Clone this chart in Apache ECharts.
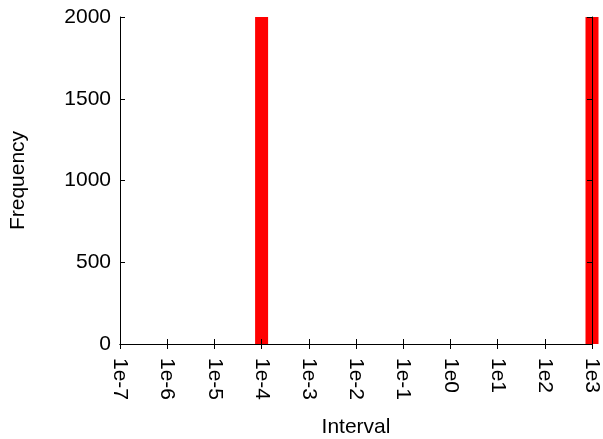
<!DOCTYPE html>
<html>
<head>
<meta charset="utf-8">
<script src="https://cdn.jsdelivr.net/npm/echarts@6/dist/echarts.min.js"></script>
<style>
  html, body { margin: 0; padding: 0; background: #fff; overflow: hidden; }
  #chart { width: 603px; height: 439px; }
</style>
</head>
<body>
<div id="chart"></div>
<script>
// Histogram of intervals on a logarithmic x axis
var intervals = [1e-4, 1e3];
var frequencies = [2000, 2000];
var xMin = 1e-7, xMax = 1e3;
var yTicks = [0, 500, 1000, 1500, 2000];

var font = 'Liberation Sans, Arial, sans-serif';
var fontSize = 21;

var chart = echarts.init(document.getElementById('chart'), null, { renderer: 'canvas', width: 603, height: 439 });

function expLabel(v) {
  return '1e' + Math.round(Math.log10(v));
}

var tickStyle = { show: true, inside: true, length: 5, lineStyle: { color: '#000', width: 1 } };
var lineStyle = { show: true, lineStyle: { color: '#000', width: 1 } };

chart.setOption({
  animation: false,
  backgroundColor: '#fff',
  grid: { left: 120, right: 11, top: 17, bottom: 95, containLabel: false, outerBoundsMode: 'none' },
  xAxis: [
    {
      type: 'log', logBase: 10, min: xMin, max: xMax, interval: 1,
      position: 'bottom',
      name: 'Interval', nameLocation: 'middle', nameGap: 73,
      nameTextStyle: { fontFamily: font, fontSize: fontSize, color: '#000' },
      axisLine: lineStyle, axisTick: tickStyle, splitLine: { show: false }, minorTick: { show: false },
      axisLabel: { rotate: -90, margin: 14, fontFamily: font, fontSize: fontSize, color: '#000',
                   formatter: expLabel },
      z: 5
    },
    {
      type: 'log', logBase: 10, min: xMin, max: xMax, interval: 1,
      position: 'top',
      axisLine: lineStyle, axisTick: tickStyle, splitLine: { show: false },
      axisLabel: { show: false },
      z: 5
    }
  ],
  yAxis: [
    {
      type: 'value', min: yTicks[0], max: yTicks[yTicks.length - 1], interval: 500,
      position: 'left',
      name: 'Frequency', nameLocation: 'middle', nameGap: 91, nameRotate: 90,
      nameTextStyle: { fontFamily: font, fontSize: fontSize, color: '#000' },
      axisLine: lineStyle, axisTick: tickStyle, splitLine: { show: false },
      axisLabel: { margin: 9, fontFamily: font, fontSize: fontSize, color: '#000',
                   formatter: function (v) { return String(v); } },
      z: 5
    },
    {
      type: 'value', min: yTicks[0], max: yTicks[yTicks.length - 1], interval: 500,
      position: 'right',
      axisLine: lineStyle, axisTick: tickStyle, splitLine: { show: false },
      axisLabel: { show: false },
      z: 5
    }
  ],
  series: [{
    type: 'bar',
    xAxisIndex: 0, yAxisIndex: 0,
    barWidth: 13,
    clip: false,
    itemStyle: { color: '#ff0000' },
    data: intervals.map(function (x, i) { return [x, frequencies[i]]; })
  }]
});
</script>
</body>
</html>
